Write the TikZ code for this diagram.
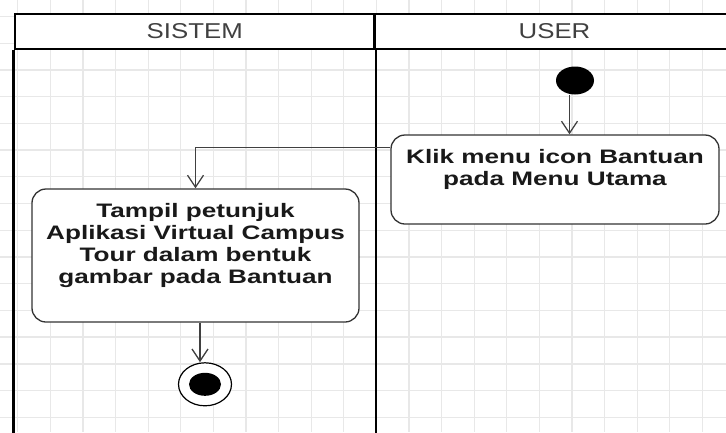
\documentclass[tikz,border=0pt]{standalone}
\usepackage{fontspec}
\setmainfont{Liberation Sans}
\newfontfamily\lanefont[FakeStretch=1.2]{Liberation Sans}
\newfontfamily\actfont[FakeStretch=1.34]{Liberation Sans}
\usetikzlibrary{arrows.meta,shapes.geometric,positioning,calc}
\newcommand{\lnstrut}{\rule[-4.6pt]{0pt}{22pt}}
\tikzset{
    activity/.style={
        rectangle,
        rounded corners=14pt,
        draw=black!80,
        line width=1.3pt,
        fill=white,
        align=center,
        inner sep=0pt,
        text=black!90,
        font=\actfont\bfseries\fontsize{19.5}{22}\selectfont
    },
    lanehead/.style={
        rectangle,
        draw=black,
        line width=2.6pt,
        fill=white,
        minimum height=35pt,
        inner sep=0pt,
        text=black!75,
        font=\lanefont\fontsize{21.5}{24}\selectfont
    },
    initial/.style={
        ellipse,
        fill=black,
        minimum width=38pt,
        minimum height=28pt,
        inner sep=0pt
    },
    final/.style={
        ellipse,
        draw=black,
        line width=1.2pt,
        fill=white,
        minimum width=53pt,
        minimum height=43pt,
        inner sep=0pt,
        path picture={\fill[black] (path picture bounding box.center) ellipse [x radius=16pt, y radius=11.5pt];}
    }
}

\begin{document}
\begin{tikzpicture}[x=1pt, y=-1pt, >={Straight Barb[length=12pt,width=16pt]}]

    \tikzset{
        gridline/.style={draw=black!9, line width=1.3pt},
        laneline/.style={draw=black, line width=2.6pt},
        flow/.style={->, draw=black!75, line width=1.3pt}
    }

    \useasboundingbox (0,0) rectangle (726,432);
    \clip (0,0) rectangle (726,432);

    % Kertas bergaris
    \foreach \gx in {0,...,22}
        \draw[gridline] ({17.8+32.6*\gx},0) -- ({17.8+32.6*\gx},432);
    \foreach \gy in {0,...,16}
        \draw[gridline] (0,{16.5+26.72*\gy}) -- (726,{16.5+26.72*\gy});

    % Swimlane
    \node[lanehead, minimum width=359.5pt] (hSistem) at (194.75,31.5) {SISTEM};
    \node[lanehead, minimum width=360pt] (hUser) at (554.5,31.5) {USER};
    \draw[laneline] (hSistem.south west) -- ++(0,400);
    \draw[laneline] (hSistem.south east) -- ++(0,400);

    % Aktivitas
    \node[initial] (mulai) at (575,80.5) {};
    \node[activity, minimum width=328pt, minimum height=89pt] (klik) at (555,179.5)
        {Klik menu icon Bantuan\lnstrut\\pada Menu Utama\lnstrut\\\lnstrut};
    \node[activity, minimum width=327pt, minimum height=133pt] (tampil) at (195.5,255.5)
        {Tampil petunjuk\lnstrut\\Aplikasi Virtual Campus\lnstrut\\Tour dalam bentuk\lnstrut\\gambar pada Bantuan\lnstrut\\\lnstrut};
    \node[final] (selesai) at (205,384.3) {};

    % Alur
    \draw[flow] ([xshift=-5.5pt]mulai.south) -- ([xshift=-5.5pt]mulai.south |- klik.north);
    \draw[flow] ([yshift=-13pt]klik.north west) -| (tampil.north);
    \draw[flow] ([xshift=4.5pt]tampil.south) -- ([xshift=4.5pt]tampil.south |- selesai.north);

\end{tikzpicture}
\end{document}
